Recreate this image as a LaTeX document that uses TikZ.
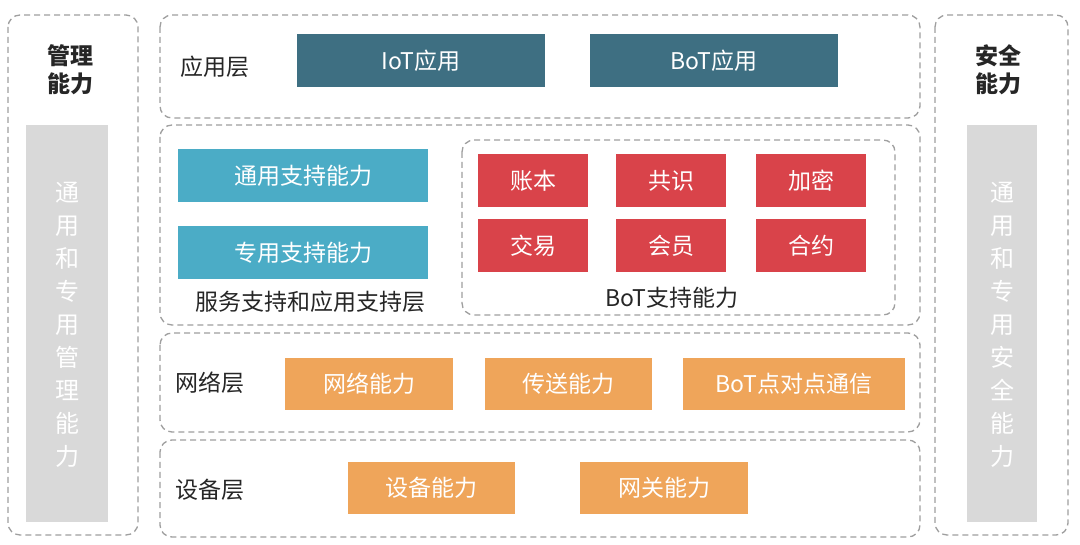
\documentclass[tikz,border=0pt]{standalone}
\usepackage{fontspec}
\setmainfont{Noto Sans CJK SC}
\definecolor{cdark}{HTML}{3E6F82}
\definecolor{cteal}{HTML}{4BACC6}
\definecolor{cred}{HTML}{D9434A}
\definecolor{cora}{HTML}{EFA55A}
\begin{document}
\begin{tikzpicture}[x=1pt,y=-1pt,
 dbox/.style={draw=gray!75,dash pattern=on 6pt off 4pt,line width=1.3pt,rounded corners=12pt},
 lab/.style={font=\fontsize{23}{26}\selectfont,text=black!85},
 fill box/.style={minimum height=53pt,text=white,font=\fontsize{23}{26}\selectfont,inner sep=0pt},
 teal/.style={fill box,fill=cteal},
 dark/.style={fill box,fill=cdark},
 red/.style={fill box,fill=cred,minimum width=110pt},
 ora/.style={fill box,fill=cora,minimum height=52pt},
 side/.style={fill=gray!30},
 vt/.style={text=white,font=\fontsize{24}{33}\selectfont,align=center}]
\useasboundingbox (0,0) rectangle (1080,545);
\fill[white] (0,0) rectangle (1080,545);
% side panels
\draw[dbox] (8,15) rectangle (138,535);
\node[lab,font=\fontsize{23}{28}\bfseries\selectfont,align=center] (mg) at (70,70) {管理\\能力};
\fill[side] (26,125) rectangle (108,522);
\node[vt] (mgt) at (67,325) {通\\用\\和\\专\\用\\管\\理\\能\\力};
\draw[dbox] (935,15) rectangle (1068,535);
\node[lab,font=\fontsize{23}{28}\bfseries\selectfont,align=center] (sc) at (998,70) {安全\\能力};
\fill[side] (967,125) rectangle (1037,522);
\node[vt] (sct) at (1002,325) {通\\用\\和\\专\\用\\安\\全\\能\\力};
% app layer
\draw[dbox] (160,15) rectangle (920,118);
\node[lab] (al) at (215,67) {应用层};
\node[dark,minimum width=248pt] (iot) at (421,61) {IoT应用};
\node[dark,minimum width=248pt] (bot) at (714,61) {BoT应用};
% service layer
\draw[dbox] (160,125) rectangle (920,325);
\node[teal,minimum width=250pt] (g1) at (303,176) {通用支持能力};
\node[teal,minimum width=250pt] (g2) at (303,253) {专用支持能力};
\node[lab] (sl) at (310,302) {服务支持和应用支持层};
\draw[dbox] (462,140) rectangle (895,315);
\node[red] (r1) at (533,181) {账本};
\node[red] (r2) at (671,181) {共识};
\node[red] (r3) at (811,181) {加密};
\node[red] (r4) at (533,246) {交易};
\node[red] (r5) at (671,246) {会员};
\node[red] (r6) at (811,246) {合约};
\node[lab] (bs) at (672,298) {BoT支持能力};
% network
\draw[dbox] (160,333) rectangle (920,432);
\node[lab] (nl) at (210,383) {网络层};
\node[ora,minimum width=168pt] (n1) at (369,384) {网络能力};
\node[ora,minimum width=167pt] (n2) at (568,384) {传送能力};
\node[ora,minimum width=222pt] (n3) at (794,384) {BoT点对点通信};
% device
\draw[dbox] (160,440) rectangle (920,537);
\node[lab] (dl) at (210,490) {设备层};
\node[ora,minimum width=167pt] (d1) at (431,488) {设备能力};
\node[ora,minimum width=168pt] (d2) at (664,488) {网关能力};
\end{tikzpicture}
\end{document}
